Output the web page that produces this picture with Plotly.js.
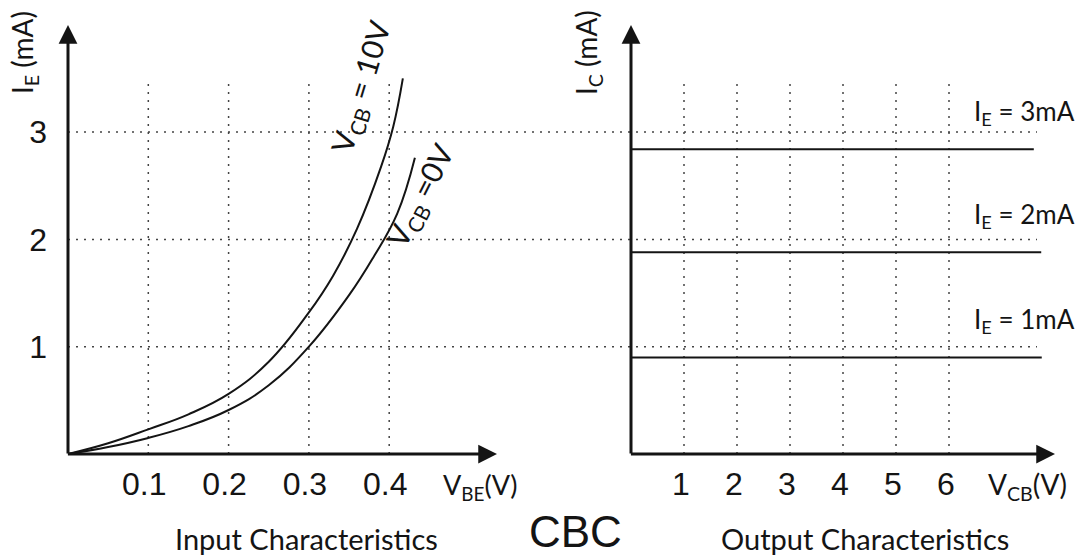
<!DOCTYPE html>
<html>
<head>
<meta charset="utf-8">
<script src="https://cdn.plot.ly/plotly-3.0.1.min.js"></script>
<style>html,body{margin:0;padding:0;background:#fff;}#chart{width:1088px;height:555px;}</style>
</head>
<body>
<div id="chart"></div>
<script>
// ---- Data ----
// Input characteristics (I_E vs V_BE)
var vbe_10V = [0, 0.05, 0.1, 0.15, 0.2, 0.25, 0.3, 0.33, 0.36, 0.39, 0.405, 0.417];
var ie_10V  = [0, 0.10, 0.23, 0.37, 0.56, 0.86, 1.32, 1.66, 2.10, 2.68, 3.05, 3.50];
var vbe_0V  = [0, 0.05, 0.1, 0.15, 0.2, 0.25, 0.3, 0.35, 0.38, 0.41, 0.432];
var ie_0V   = [0, 0.065, 0.15, 0.26, 0.41, 0.64, 1.0, 1.48, 1.83, 2.24, 2.76];
// Output characteristics (I_C vs V_CB)
var ie_levels  = [1, 2, 3];
var ic_levels  = [0.9, 1.88, 2.84];
var vcb_start  = [0, 0, -0.15];
var vcb_end    = [7.75, 7.74, 7.6];
// Tick labels / gridlines
var vbe_ticks = [0.1, 0.2, 0.3, 0.4];
var vbe_tick_text = ['0.1', '0.2', '0.3', '0.4'];
var vcb_ticks = [1, 2, 3, 4, 5, 6];
var vcb_tick_text = ['1', '2', '3', '4', '5', '6'];
var i_ticks = [1, 2, 3];
var i_tick_text = ['1', '2', '3'];
var curve_labels = ['V<sub>CB</sub> = 10V', 'V<sub>CB</sub> =0V'];

// ---- Layout geometry ----
var W = 1088, H = 555;
var LX0 = 68, RX0 = 631, Y0 = 454;
var LPX = 803, RPX = 53, YPX = 107.3;
var gridTop = 3.5;
var ink = '#141414';
var numFont = 'Liberation Sans, Arial, sans-serif';
var txtFont = 'Lato, Open Sans, sans-serif';

var traces = [
  {x: vbe_10V, y: ie_10V, xaxis: 'x', yaxis: 'y', mode: 'lines',
   line: {color: ink, width: 2, shape: 'spline', smoothing: 1.2}},
  {x: vbe_0V, y: ie_0V, xaxis: 'x', yaxis: 'y', mode: 'lines',
   line: {color: ink, width: 2, shape: 'spline', smoothing: 1.2}}
];
for (var i = 0; i < ie_levels.length; i++) {
  traces.push({x: [vcb_start[i], vcb_end[i]], y: [ic_levels[i], ic_levels[i]],
    xaxis: 'x2', yaxis: 'y', mode: 'lines', line: {color: ink, width: 2}});
}

var gridStyle = {color: '#444', width: 1.5, dash: '2px,6px'};
var shapes = [];
i_ticks.forEach(function (v) {
  shapes.push({type: 'line', xref: 'paper', yref: 'y', x0: LX0 / W, x1: 1037 / W,
    y0: v, y1: v, line: gridStyle, layer: 'below'});
});
vbe_ticks.forEach(function (v) {
  shapes.push({type: 'line', xref: 'x', yref: 'y', x0: v, x1: v, y0: 0, y1: gridTop,
    line: gridStyle, layer: 'below'});
});
vcb_ticks.forEach(function (v) {
  shapes.push({type: 'line', xref: 'x2', yref: 'y', x0: v, x1: v, y0: 0, y1: gridTop,
    line: gridStyle, layer: 'below'});
});

function arrow(xref, x, y, ax, ay) {
  return {xref: xref, yref: 'y', axref: xref, ayref: 'y', x: x, y: y, ax: ax, ay: ay,
    text: '', showarrow: true, arrowhead: 2, arrowsize: 1.25, arrowwidth: 3,
    arrowcolor: ink, standoff: 0, startstandoff: 0};
}
function ptext(text, px, py, size, family, angle) {
  return {xref: 'paper', yref: 'paper', x: px / W, y: 1 - py / H, text: text,
    showarrow: false, xanchor: 'center', yanchor: 'middle', textangle: angle || 0,
    font: {family: family, size: size, color: ink}};
}

var annotations = [
  arrow('x', 0, (Y0 - 25) / YPX, 0, -0.01),
  arrow('x', (497 - LX0) / LPX, 0, -0.002, 0),
  arrow('x2', 0, (Y0 - 25) / YPX, 0, -0.01),
  arrow('x2', (1055 - RX0) / RPX, 0, -0.03, 0),
  ptext('I<sub>E</sub> (mA)', 24, 53, 28, txtFont, -90),
  ptext('I<sub>C</sub> (mA)', 588, 53, 28, txtFont, -90),
  ptext('V<sub>BE</sub>(V)', 480, 486, 27, txtFont, 0),
  ptext('V<sub>CB</sub>(V)', 1027, 486, 28, txtFont, 0),
  ptext('Input Characteristics', 306, 538, 29, txtFont, 0),
  ptext('Output Characteristics', 865, 538, 29, txtFont, 0),
  ptext('CBC', 575, 531, 44, numFont, 0),
  {xref: 'x', yref: 'y', x: 0.366, y: 3.42, text: curve_labels[0], showarrow: false,
   textangle: -73, xanchor: 'center', yanchor: 'middle', font: {family: txtFont, size: 30, color: ink}},
  {xref: 'x', yref: 'y', x: 0.44, y: 2.40, text: curve_labels[1], showarrow: false,
   textangle: -63, xanchor: 'center', yanchor: 'middle', font: {family: txtFont, size: 30, color: ink}}
];
for (var k = 0; k < ie_levels.length; k++) {
  annotations.push({xref: 'x2', yref: 'y', x: 7.43, y: ic_levels[k], yshift: 37,
    text: 'I<sub>E</sub> = ' + ie_levels[k] + 'mA', showarrow: false,
    xanchor: 'center', yanchor: 'middle', font: {family: txtFont, size: 26, color: ink}});
}

var axisCommon = {showgrid: false, zeroline: false, showline: false, ticks: '',
  tickfont: {family: numFont, size: 32, color: ink}, fixedrange: true};

var layout = {
  width: W, height: H, margin: {l: 0, r: 0, t: 0, b: 0},
  paper_bgcolor: '#fff', plot_bgcolor: 'rgba(0,0,0,0)', showlegend: false,
  xaxis: Object.assign({}, axisCommon, {domain: [LX0 / W, 626 / W], range: [0, (626 - LX0) / LPX],
    tickvals: vbe_ticks, ticktext: vbe_tick_text, anchor: 'y', ticklabelstandoff: 8, ticklabelshift: -4}),
  xaxis2: Object.assign({}, axisCommon, {domain: [RX0 / W, 1], range: [0, (W - RX0) / RPX],
    tickvals: vcb_ticks, ticktext: vcb_tick_text, anchor: 'y', ticklabelstandoff: 8, ticklabelshift: -3}),
  yaxis: Object.assign({}, axisCommon, {domain: [(H - Y0) / H, 1], range: [0, Y0 / YPX],
    tickvals: i_ticks, ticktext: i_tick_text, anchor: 'x', ticklabelstandoff: 20}),
  shapes: shapes,
  annotations: annotations
};

Plotly.newPlot('chart', traces, layout, {displayModeBar: false, staticPlot: true});
</script>
</body>
</html>
